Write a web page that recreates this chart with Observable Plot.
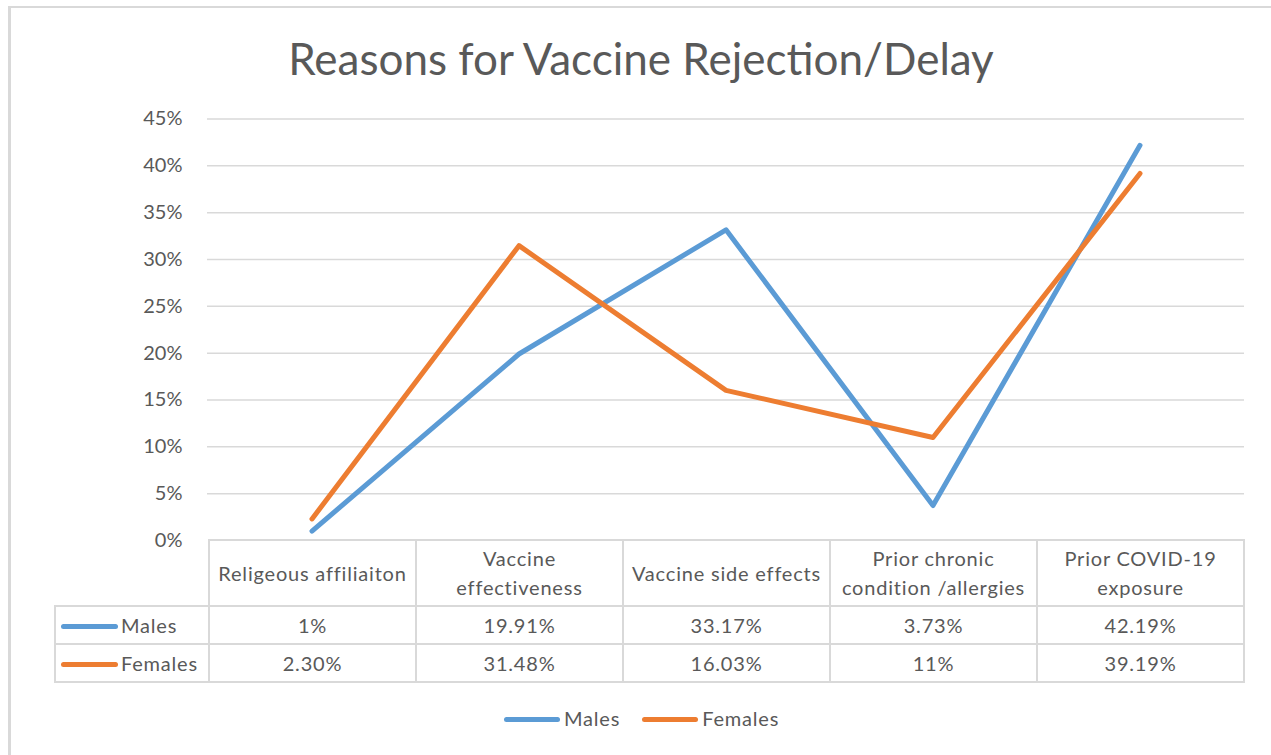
<!DOCTYPE html>
<html>
<head>
<meta charset="utf-8">
<script src="https://cdn.jsdelivr.net/npm/d3@7"></script>
<script src="https://cdn.jsdelivr.net/npm/@observablehq/plot@0.6"></script>
<style>
  html, body { margin: 0; padding: 0; background: #fff; }
  body { width: 1271px; height: 755px; position: relative; overflow: hidden;
         font-family: Lato, "Open Sans", sans-serif; color: #595959; }
  #frame { position: absolute; left: 8px; top: 6px; width: 1400px; height: 900px;
           border-top: 2px solid #d9d9d9; border-left: 3px solid #d9d9d9; box-sizing: border-box; }
  #title { position: absolute; left: 0; width: 1282px; top: 36px; text-align: center;
           font-size: 44px; line-height: 44px; color: #595959; white-space: nowrap; }
  #chart { position: absolute; left: 0; top: 100px; }
  #tbl { position: absolute; border-collapse: collapse; table-layout: fixed; font-size: 20px; color: #595959; letter-spacing: 0.8px; }
  #tbl td { border: 2px solid #d9d9d9; text-align: center; padding: 0; box-sizing: border-box; }
  #tbl td.blank { border-top: none; border-left: none; border-bottom: 2px solid #d9d9d9; }
  #tbl tr.head td { height: 66px; line-height: 29px; }
  #tbl tr.row td { height: 38px; line-height: 34px; }
  #tbl td.lab { text-align: left; padding-left: 5px; white-space: nowrap; }
  .sw { display: inline-block; width: 57px; height: 5px; border-radius: 3px; vertical-align: middle; margin-right: 3px; position: relative; top: -1px; }
  #legend { position: absolute; top: 704px; left: 504px; font-size: 20px; line-height: 28px; white-space: nowrap; color: #595959; letter-spacing: 0.8px; }
  #legend .sw { width: 56px; margin-right: 4px; }
  #legend .item { display: inline-block; }
</style>
</head>
<body>
<div id="frame"></div>
<div id="title">Reasons for Vaccine Rejection/Delay</div>
<div id="chart"></div>
<table id="tbl"></table>
<div id="legend"></div>
<script>
// ---- data ----
const categories = [
  "Religeous affiliaiton",
  "Vaccine effectiveness",
  "Vaccine side effects",
  "Prior chronic condition /allergies",
  "Prior COVID-19 exposure"
];
const categoryLines = [
  ["Religeous affiliaiton"],
  ["Vaccine", "effectiveness"],
  ["Vaccine side effects"],
  ["Prior chronic", "condition /allergies"],
  ["Prior COVID-19", "exposure"]
];
const seriesNames = ["Males", "Females"];
const seriesColors = ["#5b9bd5", "#ed7d31"];
const males = [0.01, 0.1991, 0.3317, 0.0373, 0.4219];
const females = [0.023, 0.3148, 0.1603, 0.11, 0.3919];
const maleLabels = ["1%", "19.91%", "33.17%", "3.73%", "42.19%"];
const femaleLabels = ["2.30%", "31.48%", "16.03%", "11%", "39.19%"];
const yTicks = [0, 0.05, 0.10, 0.15, 0.20, 0.25, 0.30, 0.35, 0.40, 0.45];

// ---- build tidy table ----
const rows = [];
categories.forEach((c, i) => rows.push({category: c, series: "Males", value: males[i]}));
categories.forEach((c, i) => rows.push({category: c, series: "Females", value: females[i]}));

const chart = Plot.plot({
  width: 1271,
  height: 440,
  marginTop: 18.5,
  marginBottom: 0,
  marginLeft: 207,
  marginRight: 27,
  style: {fontFamily: "Lato, 'Open Sans', sans-serif", fontSize: "20px", color: "#595959", background: "transparent", overflow: "visible"},
  x: {type: "band", domain: categories, padding: 0, axis: null},
  y: {domain: [0, 0.45], axis: null},
  color: {domain: seriesNames, range: seriesColors},
  marks: [
    Plot.ruleY(yTicks.filter(d => d > 0), {stroke: "#d9d9d9", strokeWidth: 1.5}),
    Plot.axisY({ticks: yTicks, tickSize: 0, tickPadding: 25, fontSize: 20, label: null,
                tickFormat: d => Math.round(d * 100) + "%", fill: "#595959"}),
    Plot.line(rows, {x: "category", y: "value", z: "series", stroke: "series",
                     strokeWidth: 5, strokeLinecap: "round", strokeLinejoin: "round"})
  ]
});
document.getElementById("chart").appendChild(chart);

// ---- data table aligned to the x scale ----
const xs = chart.scale("x");
const bw = xs.bandwidth;
const firstLeft = xs.apply(categories[0]);
const tableLeft = 54;
const tbl = document.getElementById("tbl");
tbl.style.left = tableLeft + "px";
tbl.style.top = "539px";
let html = `<colgroup><col style="width:${firstLeft - tableLeft}px">` +
  categories.map(() => `<col style="width:${bw}px">`).join("") + `</colgroup>`;
html += `<tr class="head"><td class="blank"></td>` +
  categoryLines.map(l => `<td>${l.join("<br>")}</td>`).join("") + `</tr>`;
const labelSets = [maleLabels, femaleLabels];
seriesNames.forEach((s, k) => {
  html += `<tr class="row"><td class="lab"><span class="sw" style="background:${seriesColors[k]}"></span>${s}</td>` +
    labelSets[k].map(v => `<td>${v}</td>`).join("") + `</tr>`;
});
tbl.innerHTML = html;
tbl.style.width = (firstLeft - tableLeft + bw * categories.length) + "px";

// ---- legend ----
document.getElementById("legend").innerHTML = seriesNames.map((s, k) =>
  `<span class="item" style="margin-right:${k === 0 ? 22 : 0}px"><span class="sw" style="background:${seriesColors[k]}"></span>${s}</span>`
).join("");
</script>
</body>
</html>
